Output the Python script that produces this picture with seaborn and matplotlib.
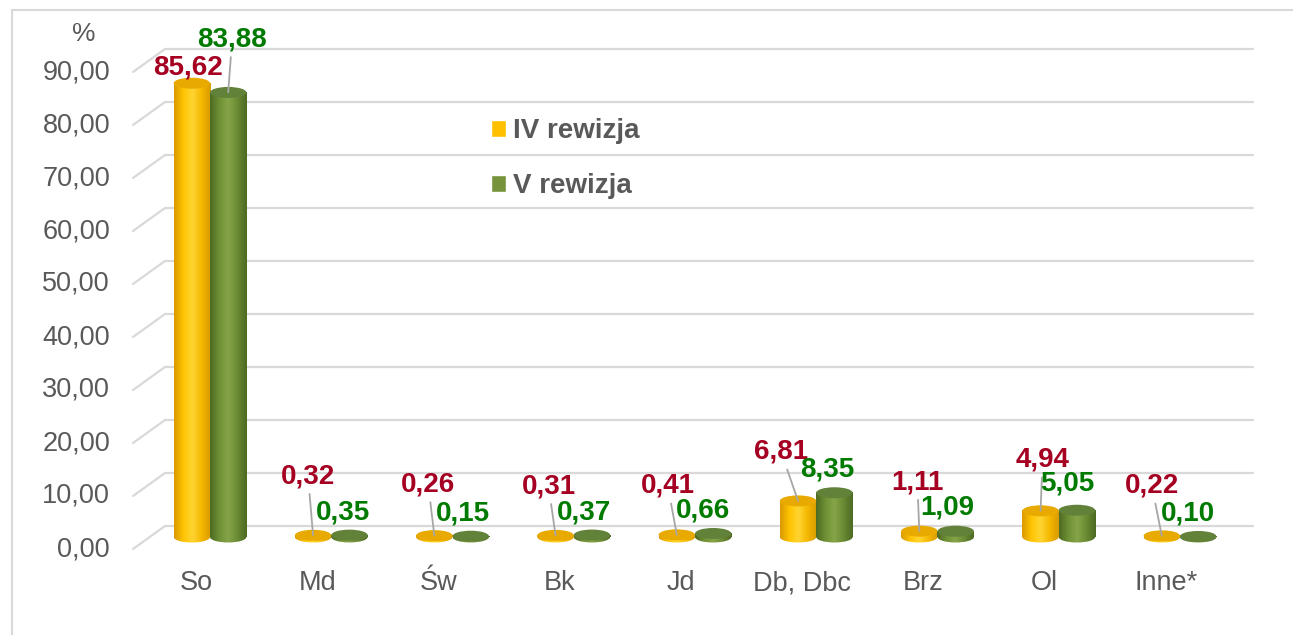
import numpy as np
import pandas as pd
import matplotlib
matplotlib.use("Agg")
import matplotlib.pyplot as plt
from matplotlib.patches import Ellipse, Rectangle
from matplotlib.colors import LinearSegmentedColormap
import seaborn as sns

# dane
categories = ["So", "Md", "Św", "Bk", "Jd", "Db, Dbc", "Brz", "Ol", "Inne*"]
rev_iv = [85.62, 0.32, 0.26, 0.31, 0.41, 6.81, 1.11, 4.94, 0.22]
rev_v = [83.88, 0.35, 0.15, 0.37, 0.66, 8.35, 1.09, 5.05, 0.10]
series = ["IV rewizja", "V rewizja"]
y_ticks = [0, 10, 20, 30, 40, 50, 60, 70, 80, 90]

# przesuniecia etykiet (px, w dol dodatnie) i linie odniesienia
off_iv = [(-4, -16), (-5, -59), (-6, -51), (-7, -49), (-9, -49), (-17, -49), (-2, -49), (2, -51), (-10, -50)]
off_v = [(4, -53), (-6, -23), (-8, -23), (-8, -23), (-10, -23), (-7, -23), (-8, -24), (-10, -27), (-10, -23)]
lead_iv = [False, True, True, True, True, True, True, True, True]
lead_v = [True, False, False, False, False, False, False, False, False]

df = pd.DataFrame({
    "kat": categories * 2,
    "val": rev_iv + rev_v,
    "rew": [series[0]] * len(categories) + [series[1]] * len(categories),
})

sns.set_theme(style="white")
plt.rcParams["font.family"] = ["Liberation Sans", "DejaVu Sans"]

W, H = 1293, 635
fig = plt.figure(figsize=(W / 100, H / 100), dpi=100)
fig.patch.set_facecolor("white")

# geometria (piksele obrazu); os siega 16 px ponizej zera, zeby zmiescic dolne elipsy
x_left, x_right = 165, 1253
y_zero, y_top = 537, 60
pad = 16
k = 90 / (y_zero - y_top)  # jednostki danych na piksel
ax = fig.add_axes([x_left / W, 1 - (y_zero + pad) / H, (x_right - x_left) / W, (y_zero + pad - y_top) / H])
ax.patch.set_alpha(0)

sns.barplot(data=df, x="kat", y="val", hue="rew", palette=["#FFC000", "#77933C"],
            width=0.6, saturation=1, ax=ax, zorder=2)

step = 121.25
axw = x_right - x_left

grid_c = "#D9D9D9"
text_c = "#595959"
yax = ax.get_yaxis_transform()
for v in y_ticks:
    ax.plot([0, 1], [v + 11 * k, v + 11 * k], transform=yax, color=grid_c, lw=1.6, zorder=0, clip_on=False)
    ax.plot([0, -32 / axw], [v + 11 * k, v - 12 * k], transform=yax, color=grid_c, lw=1.6, zorder=0, clip_on=False)
    ax.text(-55 / axw, v - 12 * k, f"{v:.2f}".replace(".", ","), transform=yax, ha="right", va="center",
            fontsize=19.5, color=text_c)
ax.text(-81 / axw, (y_zero - 34) * k, "%", transform=yax, ha="center", va="center", fontsize=19, color=text_c)

for i, cat in enumerate(categories):
    ax.text(i - 14 / step, -46 * k, cat, ha="center", va="center", fontsize=19.5, color=text_c, clip_on=False)

# efekt walca
eh = 11 * k
grad = np.linspace(0, 1, 64).reshape(1, -1)
styles = [
    (LinearSegmentedColormap.from_list("y", ["#D99A00", "#FFC400", "#FFD533", "#F5B800", "#D89C00"]), "#E8AA00"),
    (LinearSegmentedColormap.from_list("g", ["#4E6B22", "#6F9035", "#86A548", "#6A8A33", "#4D6A22"]), "#62823A"),
]
for cont, (cmap, top_c) in zip(ax.containers, styles):
    for bar in cont:
        bx, bw, bh = bar.get_x(), bar.get_width(), bar.get_height()
        cx = bx + bw / 2
        bar.set_visible(False)
        base = Ellipse((cx, 0), bw, eh, facecolor="none", edgecolor="none")
        ax.add_patch(base)
        im = ax.imshow(grad, cmap=cmap, extent=(bx, bx + bw, -eh / 2, eh / 2), aspect="auto",
                       interpolation="bicubic", zorder=2)
        im.set_clip_path(base)
        ax.imshow(grad, cmap=cmap, extent=(bx, bx + bw, 0, bh), aspect="auto", interpolation="bicubic", zorder=2)
        ax.add_patch(Ellipse((cx, bh), bw, eh, facecolor=top_c, edgecolor="none", zorder=3, clip_on=False))

ax.set_xlim(-45 / step, (x_right - x_left - 45) / step)
ax.set_ylim(-pad * k, 90)

# etykiety wartosci
for cont, vals, offs, leads, col in zip(ax.containers, [rev_iv, rev_v], [off_iv, off_v],
                                        [lead_iv, lead_v], ["#A50021", "#007A00"]):
    for bar, val, (dx, dy), lead in zip(cont, vals, offs, leads):
        cx = bar.get_x() + bar.get_width() / 2
        arrow = dict(arrowstyle="-", color="#A6A6A6", lw=1.3, shrinkA=1, shrinkB=0) if lead else None
        ax.annotate(f"{val:.2f}".replace(".", ","), xy=(cx, val), xytext=(dx, -dy),
                    textcoords="offset pixels", ha="center", va="center", fontsize=20,
                    fontweight="bold", color=col, arrowprops=arrow, zorder=5, annotation_clip=False)

old = ax.get_legend()
handles = old.legend_handles
labels = [t.get_text() for t in old.texts]
leg = ax.legend(handles, labels, loc="upper left", bbox_to_anchor=(491 / W, 1 - 118 / H),
                bbox_transform=fig.transFigure, frameon=False, fontsize=20, borderpad=0,
                borderaxespad=0, handlelength=0.55, handleheight=0.55, handletextpad=0.25,
                labelspacing=1.05)
for t in leg.get_texts():
    t.set_color(text_c)
    t.set_fontweight("bold")

ax.set_xticks([])
ax.set_yticks([])
ax.set_xlabel("")
ax.set_ylabel("")
sns.despine(ax=ax, left=True, bottom=True)

fig.add_artist(Rectangle((12 / W, -0.1), 1.0, 1 - 10 / H + 0.1, transform=fig.transFigure,
                         fill=False, edgecolor="#D9D9D9", lw=1.5))

fig.savefig("out.png", dpi=100)
